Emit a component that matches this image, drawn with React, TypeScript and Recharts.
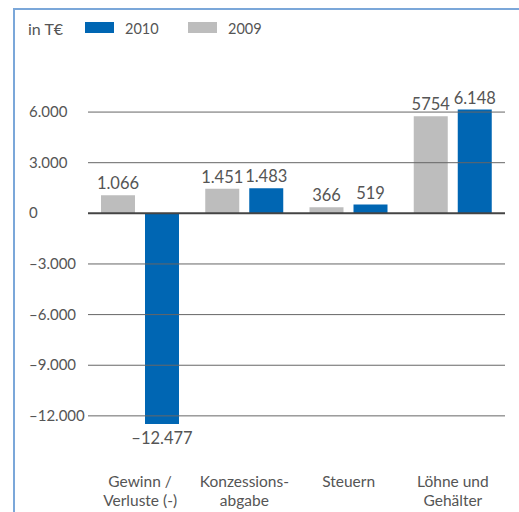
import { BarChart, Bar, XAxis, YAxis, ReferenceLine, LabelList } from 'recharts';

const categories = [['Gewinn /', 'Verluste (-)'], ['Konzessions-', 'abgabe'], ['Steuern', ''], ['Löhne und', 'Gehälter']];
const values2009 = [1066, 1451, 366, 5754];
const values2010 = [-12477, 1483, 519, 6148];
const labels2009 = ['1.066', '1.451', '366', '5754'];
const labels2010 = ['–12.477', '1.483', '519', '6.148'];
const yTicks = [-12000, -9000, -6000, -3000, 0, 3000, 6000];
const yTickLabels = ['–12.000', '–9.000', '–6.000', '–3.000', '0', '3.000', '6.000'];

const BLUE = '#0066b3';
const GRAY = '#bdbdbd';
const TEXT = '#555';
const FONT = 'Lato, "Open Sans", sans-serif';

const data = categories.map((c, i) => ({
    name: i,
    v2009: values2009[i],
    v2010: values2010[i],
}));

function YTick({ y, payload }: any) {
    const idx = yTicks.indexOf(payload.value);
    return (
        <text x={29} y={y + 5} textAnchor="start" fontSize={15} fill={TEXT} fontFamily={FONT}>
            {yTickLabels[idx]}
        </text>
    );
}

function XTick({ x, y, payload }: any) {
    const lines = categories[payload.value];
    return (
        <g>
            <text x={x} y={y + 53} textAnchor="middle" fontSize={15.5} fill={TEXT} fontFamily={FONT}>{lines[0]}</text>
            <text x={x} y={y + 72} textAnchor="middle" fontSize={15.5} fill={TEXT} fontFamily={FONT}>{lines[1]}</text>
        </g>
    );
}

const makeLabel = (labels: string[]) => (props: any) => {
    const { x, y, width, height, index, value } = props;
    const cx = x + width / 2;
    const top = Math.min(y, y + height);
    const bottom = Math.max(y, y + height);
    const ty = value < 0 ? bottom + 20 : top - 6;
    return (
        <text x={cx} y={ty} textAnchor="middle" fontSize={16.5} fill={TEXT} fontFamily={FONT}>
            {labels[index]}
        </text>
    );
};

export default function App() {
    return (
        <div style={{ position: 'fixed', left: 0, top: 0, width: 519, height: 512, background: '#fff', fontFamily: FONT }}>
            {/* frame */}
            <div style={{ position: 'absolute', left: 13, top: 8, width: 506, height: 2, background: '#7ba7d9' }} />
            <div style={{ position: 'absolute', left: 13, top: 8, width: 2, height: 504, background: '#7ba7d9' }} />

            {/* legend */}
            <div style={{ position: 'absolute', left: 28, top: 19, fontSize: 16, color: TEXT }}>in T€</div>
            <div style={{ position: 'absolute', left: 85, top: 22, width: 29, height: 11, background: BLUE }} />
            <div style={{ position: 'absolute', left: 125, top: 20, fontSize: 14.5, color: TEXT }}>2010</div>
            <div style={{ position: 'absolute', left: 188, top: 22, width: 29, height: 11, background: GRAY }} />
            <div style={{ position: 'absolute', left: 228, top: 20, fontSize: 14.5, color: TEXT }}>2009</div>

            <div style={{ position: 'absolute', left: 0, top: 0 }}>
                <BarChart
                    width={519}
                    height={512}
                    data={data}
                    margin={{ top: 107, right: 14, bottom: 0, left: 0 }}
                    barSize={34}
                    barGap={10}
                >
                    <XAxis
                        dataKey="name"
                        axisLine={false}
                        tickLine={false}
                        tick={<XTick />}
                        height={86}
                        interval={0}
                    />
                    <YAxis
                        type="number"
                        domain={[-12600, 6300]}
                        ticks={yTicks}
                        axisLine={false}
                        tickLine={false}
                        tick={<YTick />}
                        width={88}
                        allowDataOverflow
                    />
                    {yTicks.filter((t) => t !== 0).map((t) => (
                        <ReferenceLine key={t} y={t} stroke="#666" strokeWidth={1} />
                    ))}
                    <ReferenceLine y={0} stroke="#444" strokeWidth={2} />
                    <Bar dataKey="v2009" fill={GRAY} isAnimationActive={false}>
                        <LabelList dataKey="v2009" content={makeLabel(labels2009)} />
                    </Bar>
                    <Bar dataKey="v2010" fill={BLUE} isAnimationActive={false}>
                        <LabelList dataKey="v2010" content={makeLabel(labels2010)} />
                    </Bar>
                </BarChart>
            </div>
        </div>
    );
}
